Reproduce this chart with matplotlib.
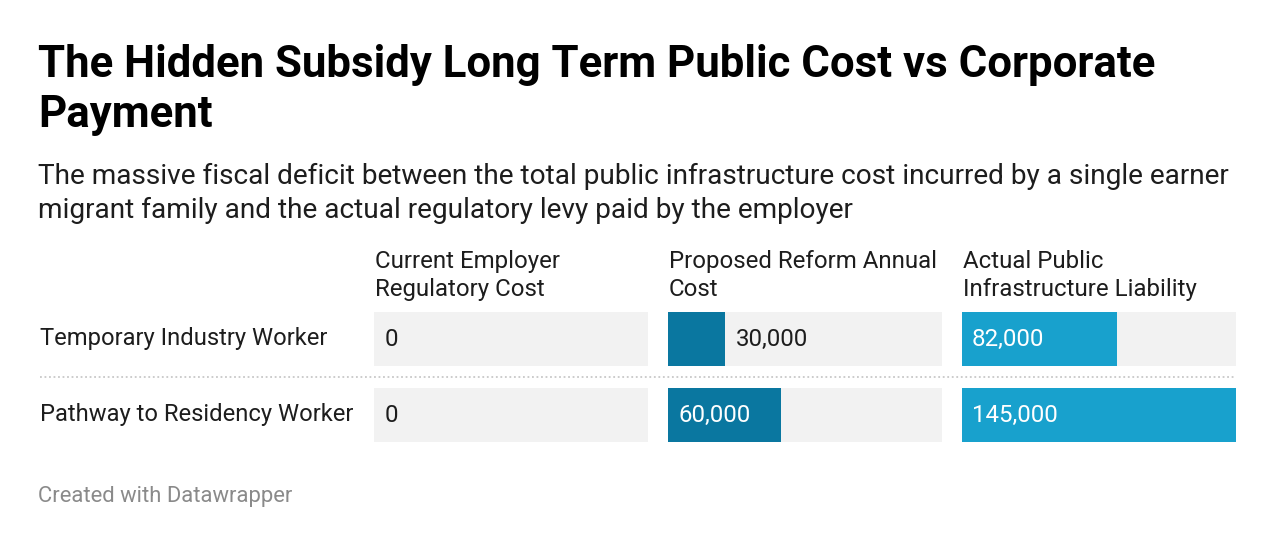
import matplotlib
matplotlib.use("Agg")
import matplotlib.pyplot as plt
from matplotlib.lines import Line2D

# ---- data ----
title_lines = ["The Hidden Subsidy Long Term Public Cost vs Corporate", "Payment"]
subtitle_lines = ["The massive fiscal deficit between the total public infrastructure cost incurred by a single earner",
                  "migrant family and the actual regulatory levy paid by the employer"]
categories = ["Temporary Industry Worker", "Pathway to Residency Worker"]
columns = [["Current Employer", "Regulatory Cost"],
           ["Proposed Reform Annual", "Cost"],
           ["Actual Public", "Infrastructure Liability"]]
current_cost = [0, 0]
reform_cost = [30000, 60000]
public_liability = [82000, 145000]
series = [current_cost, reform_cost, public_liability]
bar_colors = ["#0a77a0", "#0a77a0", "#18a1cd"]
footer = "Created with Datawrapper"

W, H = 1276, 546
DPI = 100
def px(v):
    return v * 72.0 / DPI

FONT = "Roboto"
TXT = "#1d1d1d"

fig = plt.figure(figsize=(W / DPI, H / DPI), dpi=DPI)
fig.patch.set_facecolor("white")

def fx(x):
    return x / W
def fy(y):
    return 1 - y / H

# Title & subtitle
for line, base in zip(title_lines, [77, 127]):
    fig.text(fx(38), fy(base), line, fontsize=px(43.8), fontweight="bold", family=FONT,
             color="#000000", va="baseline", ha="left")
for line, base in zip(subtitle_lines, [184, 218]):
    fig.text(fx(38), fy(base), line, fontsize=px(28), family=FONT, color=TXT,
             va="baseline", ha="left")

vmax = max(max(s) for s in series)
col_left = [374, 668, 962]
col_w = 274
rows_top, rows_bot = 312, 442
bar_h = 54
row_centers = [27, 103]

for ci, (vals, cl) in enumerate(zip(series, col_left)):
    ax = fig.add_axes([fx(cl), fy(rows_bot), col_w / W, (rows_bot - rows_top) / H])
    ax.set_xlim(0, vmax)
    ax.set_ylim(rows_bot - rows_top, 0)
    ax.axis("off")
    ax.barh(row_centers, [vmax] * len(vals), height=bar_h, color="#f2f2f2", left=0)
    ax.barh(row_centers, vals, height=bar_h, color=bar_colors[ci], left=0)
    for yc, v in zip(row_centers, vals):
        lab = f"{v:,}"
        bar_px = v / vmax * col_w
        if bar_px > 95:
            ax.annotate(lab, xy=(0, yc), xytext=(10, 0), textcoords="offset pixels",
                        va="center", ha="left", fontsize=px(24), family=FONT, color="white")
        else:
            ax.annotate(lab, xy=(v, yc), xytext=(11, 0), textcoords="offset pixels",
                        va="center", ha="left", fontsize=px(24), family=FONT, color=TXT)
    for line, base in zip(columns[ci], [268, 296]):
        fig.text(fx(cl + 1), fy(base), line, fontsize=px(24), family=FONT, color=TXT,
                 va="baseline", ha="left")

for cat, yc in zip(categories, row_centers):
    fig.text(fx(40), fy(rows_top + yc), cat, fontsize=px(23.8), family=FONT, color=TXT,
             va="center", ha="left")

fig.add_artist(Line2D([fx(40), fx(1236)], [fy(377), fy(377)], transform=fig.transFigure,
                      color="#c8c8c8", linewidth=1.3, linestyle=(0, (1, 1.5))))

fig.text(fx(38), fy(502), footer, fontsize=px(22), family=FONT, color="#8a8a8a",
         va="baseline", ha="left")

fig.savefig("out.png", dpi=DPI)
